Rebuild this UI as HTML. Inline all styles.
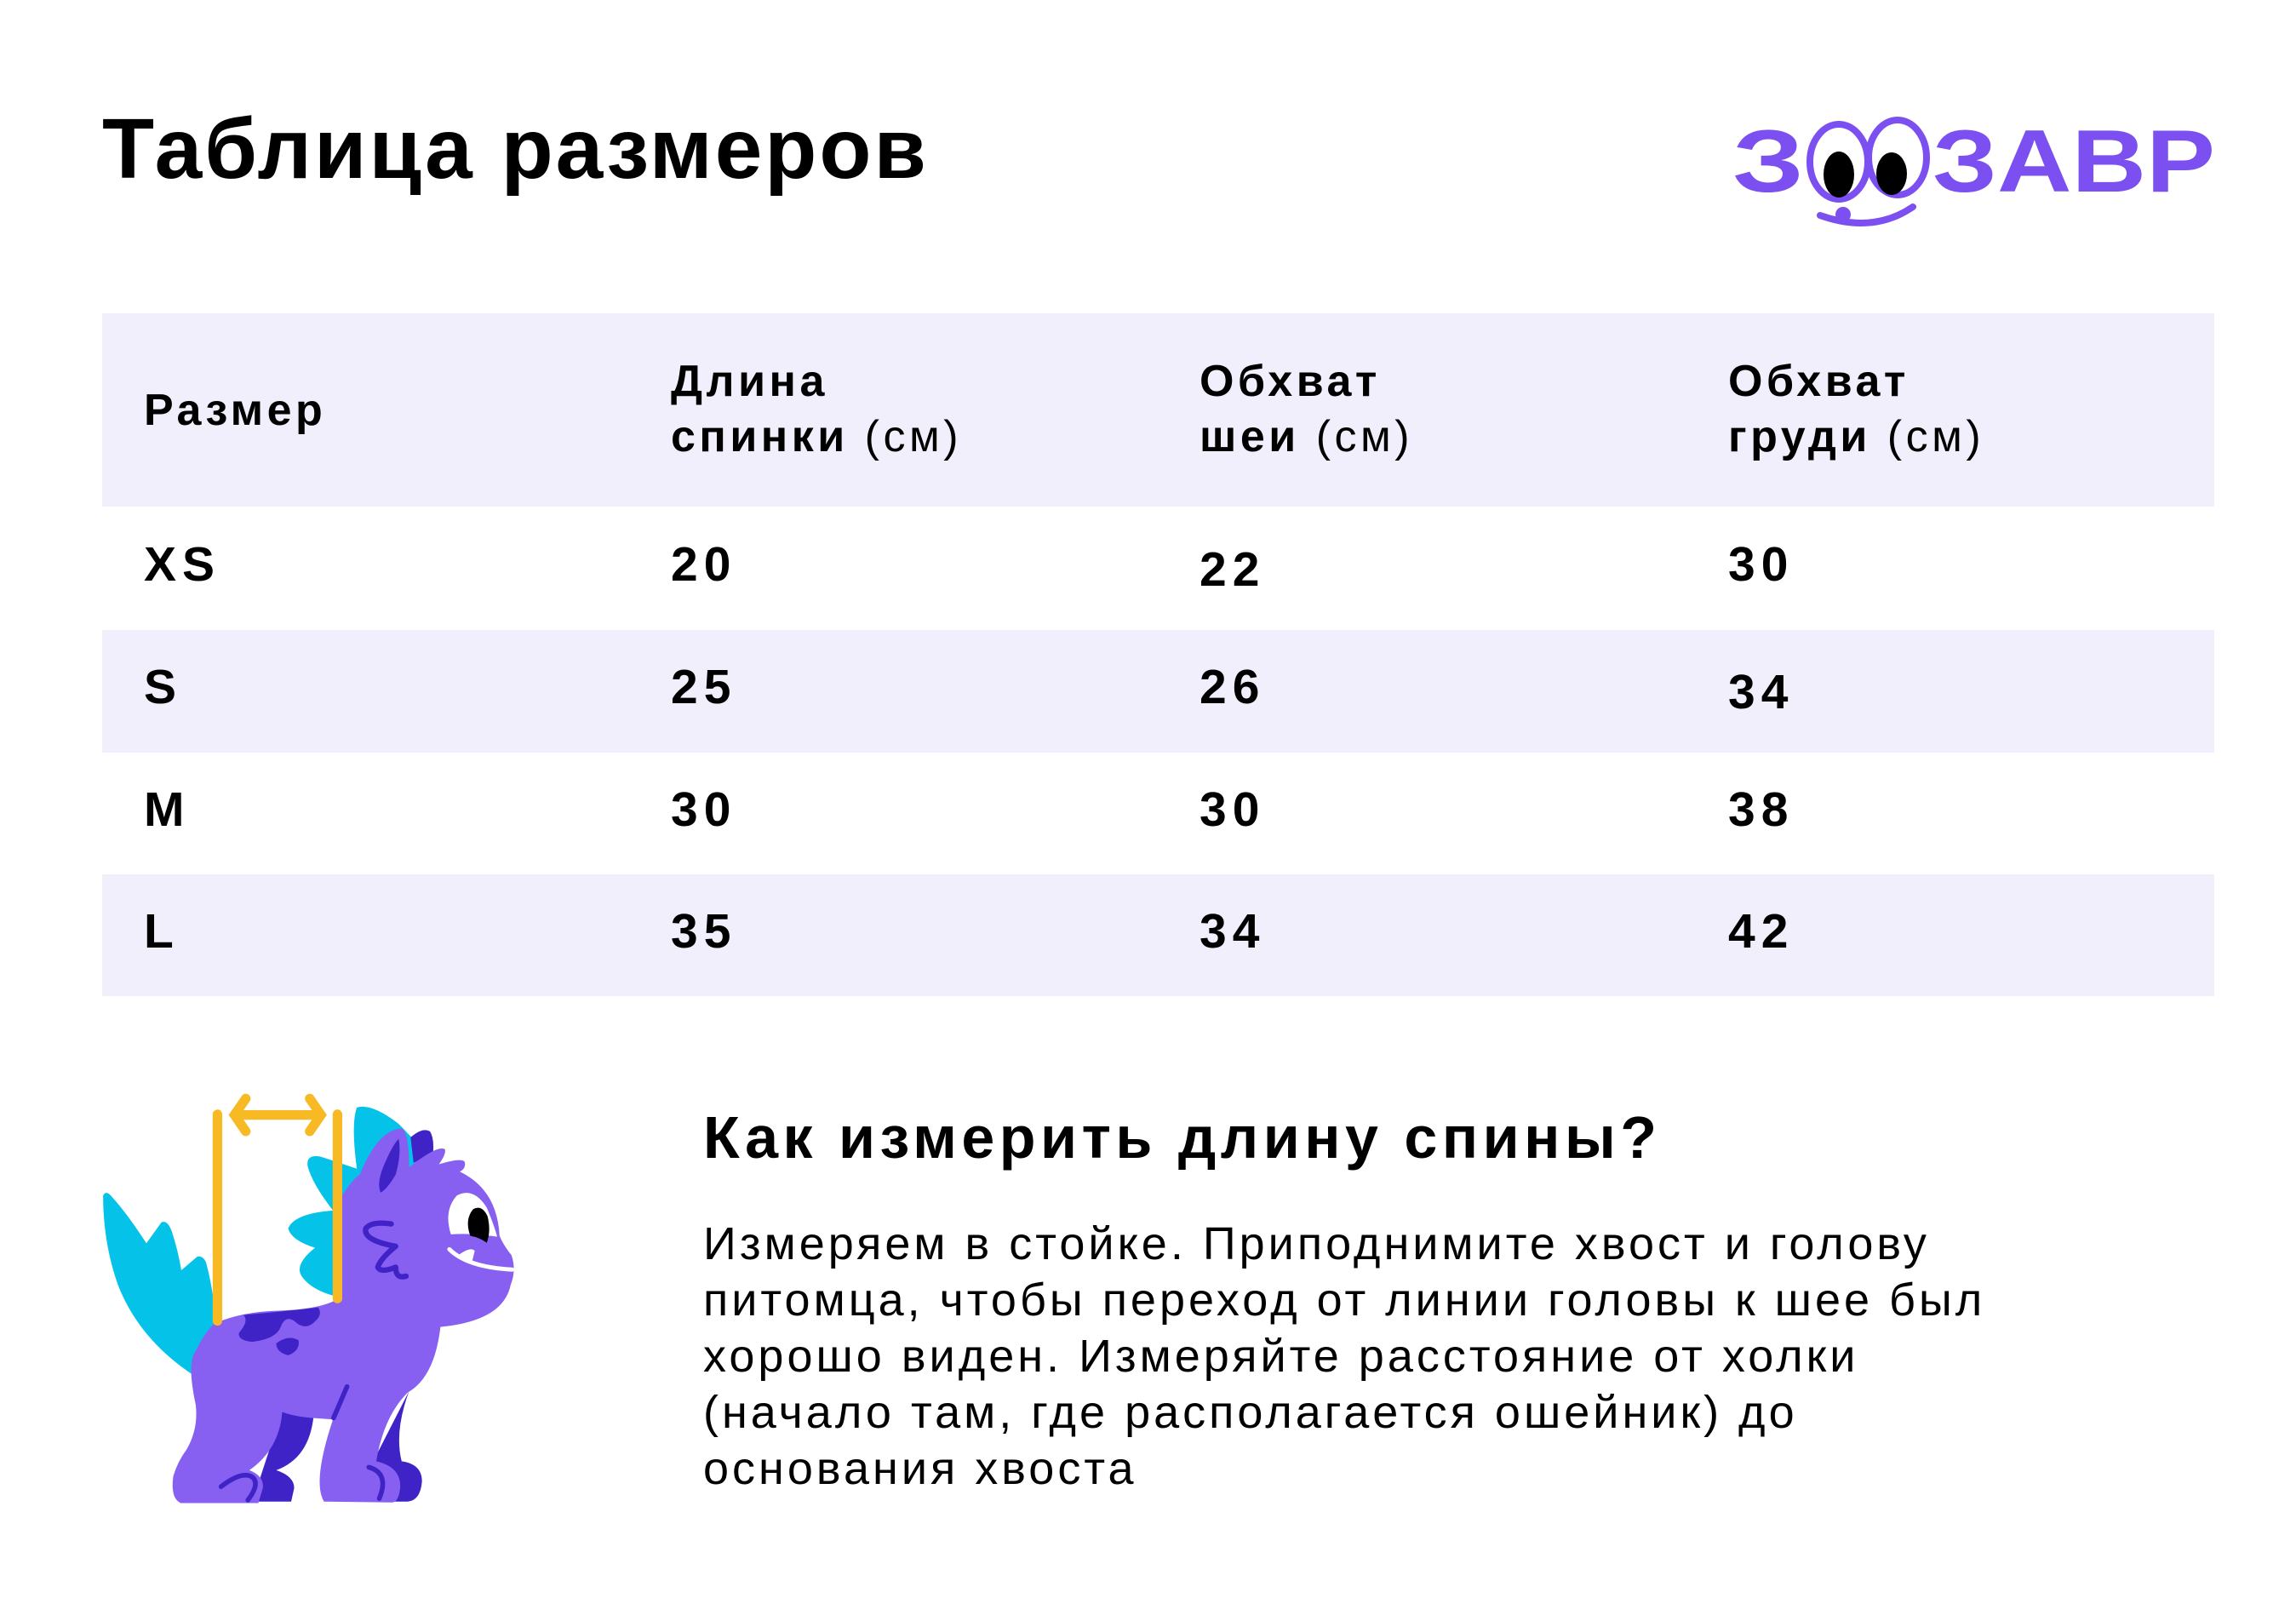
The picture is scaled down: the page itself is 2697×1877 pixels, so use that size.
<!DOCTYPE html>
<html><head><meta charset="utf-8"><style>
html,body{margin:0;padding:0;background:#fff;}
body{width:2697px;height:1877px;position:relative;overflow:hidden;font-family:"Liberation Sans","DejaVu Sans",sans-serif;color:#000;}
.a{position:absolute;white-space:nowrap;}
.title{left:120px;top:118px;font-size:100px;font-weight:bold;letter-spacing:3px;}
.band{position:absolute;left:120px;width:2481px;background:#F1EFFC;}
.h{font-size:52px;font-weight:bold;line-height:65px;letter-spacing:4.5px;}
.h span{font-weight:normal;}
.n{font-size:57px;font-weight:bold;letter-spacing:7px;}
.sub{left:826px;top:1296px;font-size:70px;font-weight:bold;letter-spacing:5.5px;}
.p{left:826px;top:1428px;font-size:54px;line-height:66px;letter-spacing:4px;}
</style></head><body>
<div class="a title">Таблица размеров</div>

<svg class="a" style="left:2020px;top:120px" width="600" height="150" viewBox="2020 120 600 150">
<text x="2035" y="225" font-family="Liberation Sans" font-weight="bold" font-size="104" fill="#7B4FF0" textLength="84" lengthAdjust="spacingAndGlyphs">З</text>
<text x="2270" y="225" font-family="Liberation Sans" font-weight="bold" font-size="104" fill="#7B4FF0" textLength="332" lengthAdjust="spacingAndGlyphs">ЗАВР</text>
<ellipse cx="2160" cy="190" rx="34" ry="44" fill="#fff" stroke="#7B4FF0" stroke-width="8"/>
<ellipse cx="2229" cy="185" rx="34" ry="44" fill="#fff" stroke="#7B4FF0" stroke-width="8"/>
<ellipse cx="2160" cy="205" rx="18" ry="27" fill="#000"/>
<ellipse cx="2222" cy="204" rx="18" ry="25" fill="#000"/>
<path d="M2138 253 Q2200 275 2247 243" fill="none" stroke="#7B4FF0" stroke-width="8" stroke-linecap="round"/>
<circle cx="2165" cy="252" r="9" fill="#7B4FF0"/>
</svg>

<div class="band" style="top:368px;height:227px"></div>
<div class="band" style="top:740px;height:144px"></div>
<div class="band" style="top:1027px;height:143px"></div>

<div class="a h" style="left:169px;top:450px">Размер</div>
<div class="a h" style="left:788px;top:416px">Длина<br>спинки <span>(см)</span></div>
<div class="a h" style="left:1409px;top:416px">Обхват<br>шеи <span>(см)</span></div>
<div class="a h" style="left:2030px;top:416px">Обхват<br>груди <span>(см)</span></div>

<div class="a n" style="left:169px;top:630px">XS</div>
<div class="a n" style="left:788px;top:630px">20</div>
<div class="a n" style="left:1409px;top:636px">22</div>
<div class="a n" style="left:2030px;top:630px">30</div>

<div class="a n" style="left:169px;top:774px">S</div>
<div class="a n" style="left:788px;top:774px">25</div>
<div class="a n" style="left:1409px;top:774px">26</div>
<div class="a n" style="left:2030px;top:780px">34</div>

<div class="a n" style="left:169px;top:918px">M</div>
<div class="a n" style="left:788px;top:918px">30</div>
<div class="a n" style="left:1409px;top:918px">30</div>
<div class="a n" style="left:2030px;top:918px">38</div>

<div class="a n" style="left:169px;top:1061px">L</div>
<div class="a n" style="left:788px;top:1061px">35</div>
<div class="a n" style="left:1409px;top:1061px">34</div>
<div class="a n" style="left:2030px;top:1061px">42</div>

<svg class="a" style="left:100px;top:1250px" width="550" height="540" viewBox="0 0 1568 1540">
<path d="M60,440 Q70,420 90,445 Q140,500 205,600 L255,530 Q275,520 290,560 Q310,620 322,690 L375,645 Q395,640 405,665 Q420,720 430,790 L440,880 L360,1040 Q180,920 110,740 Q60,600 60,440Z" fill="#05C3E8"/>
<path d="M910,145 Q960,130 1050,200 Q1110,260 1135,300 L1080,420 L850,780 Q760,760 725,710 Q700,670 770,615 Q690,590 680,550 Q700,500 830,490 Q760,400 745,340 Q740,300 790,310 L910,350 Q890,200 910,145Z" fill="#05C3E8"/>
<path d="M1090,245 Q1130,210 1155,225 Q1170,250 1165,300 L1100,330Z" fill="#4023C6"/>
<path d="M660,1160 L765,1180 Q750,1320 640,1360 Q700,1380 700,1420 L690,1465 L560,1465Z" fill="#4023C6"/>
<path d="M1085,1095 Q1035,1230 1060,1330 Q1130,1340 1128,1400 Q1122,1462 1080,1465 L990,1465 L970,1320Z" fill="#4023C6"/>
<path d="M430,870 Q520,830 640,826 Q780,822 840,790 L860,440 Q900,380 920,370 Q980,220 1060,215 Q1085,230 1085,345 Q1180,270 1205,285 Q1210,300 1185,335 Q1270,310 1272,330 Q1275,350 1255,360 Q1380,420 1388,575 Q1400,605 1428,640 Q1445,690 1425,740 Q1400,860 1190,880 Q1170,1050 1080,1100 Q1000,1180 975,1330 Q1060,1350 1055,1420 Q1050,1465 1030,1468 L800,1465 Q760,1400 830,1190 L760,1185 Q700,1180 660,1165 Q650,1290 550,1360 Q600,1380 595,1420 L580,1470 L320,1470 Q285,1455 295,1380 Q310,1330 340,1290 Q380,1220 370,1140 Q340,1000 370,960 Q400,900 430,870Z" fill="#8760F2"/>
<path d="M530,840 Q650,830 780,815 Q800,840 760,870 Q730,890 700,860 Q670,840 655,880 Q640,920 560,930 Q510,925 515,900 Q550,860 530,840Z" fill="#4023C6"/>
<path d="M640,935 Q680,905 715,925 Q720,960 680,975 Q640,965 640,935Z" fill="#4023C6"/>
<path d="M1050,250 Q1060,300 1040,370 Q1010,420 990,430 Q975,400 1000,340 Q1030,270 1050,250Z" fill="#4023C6"/>
<path d="M1225,570 Q1200,490 1245,440 Q1300,410 1345,480 Q1370,540 1380,578 Q1300,565 1225,570Z" fill="#fff"/>
<path d="M1290,575 Q1270,520 1300,485 Q1330,470 1348,510 Q1360,560 1345,598 Q1320,580 1290,575Z" fill="#000"/>
<path d="M1220,620 Q1280,680 1430,688" fill="none" stroke="#fff" stroke-width="14" stroke-linecap="round"/>
<path d="M1250,640 Q1290,610 1305,625 L1295,665Z" fill="#fff"/>
<path d="M1025,535 Q960,525 940,550 Q930,590 1040,610 Q990,650 980,680 Q990,700 1040,680 Q1040,720 1075,710" fill="none" stroke="#4023C6" stroke-width="18" stroke-linecap="round" stroke-linejoin="round"/>
<path d="M877,1080 L832,1185" stroke="#4023C6" stroke-width="16" stroke-linecap="round"/>
<path d="M455,1415 Q520,1365 555,1380 Q590,1400 545,1460" fill="none" stroke="#4023C6" stroke-width="16" stroke-linecap="round"/>
<path d="M950,1350 Q1020,1370 985,1455" fill="none" stroke="#4023C6" stroke-width="16" stroke-linecap="round"/>
<g stroke="#F7B924" stroke-width="32" stroke-linecap="round" fill="none">
<path d="M443,168 L443,860"/><path d="M845,168 L845,785"/>
<path d="M505,170 L785,170"/>
<path d="M538,115 L500,170 L538,225"/><path d="M752,115 L790,170 L752,225"/>
</g>
</svg>

<div class="a sub">Как измерить длину спины?</div>
<div class="a p">Измеряем в стойке. Приподнимите хвост и голову<br>питомца, чтобы переход от линии головы к шее был<br>хорошо виден. Измеряйте расстояние от холки<br>(начало там, где располагается ошейник) до<br>основания хвоста</div>
</body></html>
